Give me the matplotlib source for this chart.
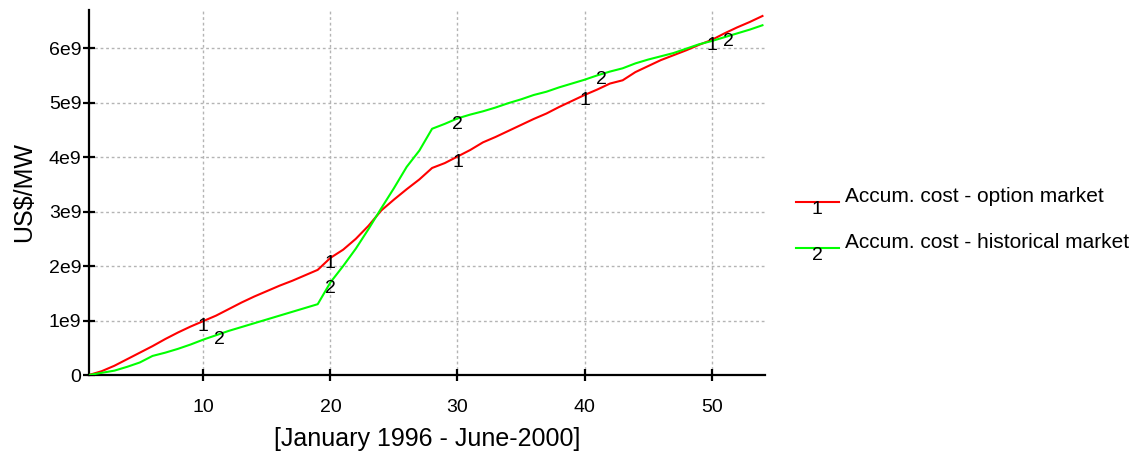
import numpy as np
import matplotlib
matplotlib.use('Agg')
import matplotlib.pyplot as plt
from matplotlib.lines import Line2D

# Monthly accumulated cost, Jan 1996 (month 1) to June 2000 (month 54)
months = list(range(1, 55))
option_cost = [0.00, 0.07, 0.17, 0.29, 0.41, 0.53, 0.66, 0.78, 0.89, 0.99,
               1.09, 1.21, 1.33, 1.44, 1.54, 1.64, 1.73, 1.83, 1.93, 2.15,
               2.30, 2.50, 2.74, 3.02, 3.22, 3.41, 3.59, 3.80, 3.89, 4.01,
               4.13, 4.27, 4.37, 4.48, 4.59, 4.70, 4.80, 4.92, 5.03, 5.14,
               5.24, 5.35, 5.41, 5.56, 5.67, 5.78, 5.87, 5.96, 6.06, 6.15,
               6.27, 6.38, 6.48, 6.59]
historical_cost = [0.00, 0.04, 0.08, 0.15, 0.23, 0.35, 0.41, 0.48, 0.56, 0.65,
                   0.73, 0.81, 0.88, 0.95, 1.02, 1.09, 1.16, 1.23, 1.30, 1.70,
                   2.00, 2.32, 2.68, 3.06, 3.43, 3.82, 4.12, 4.52, 4.61, 4.71,
                   4.78, 4.84, 4.91, 4.99, 5.06, 5.14, 5.20, 5.28, 5.35, 5.42,
                   5.50, 5.57, 5.63, 5.72, 5.79, 5.85, 5.91, 5.99, 6.07, 6.13,
                   6.20, 6.27, 6.34, 6.42]
option_marks = [10, 20, 30, 40, 50]
historical_marks = [11.3, 20, 30, 41.3, 51.3]
series_names = ['Accum. cost - option market', 'Accum. cost - historical market']

plt.rcParams['font.family'] = ['Liberation Sans', 'DejaVu Sans']

W, H = 1138, 455
fig = plt.figure(figsize=(W / 100, H / 100), dpi=100)
ax = fig.add_axes([89 / W, 80 / H, (765 - 89) / W, (375 - 10) / H])

x = np.array(months, dtype=float)
y1 = np.array(option_cost) * 1e9
y2 = np.array(historical_cost) * 1e9

ax.plot(x, y1, color='#ff0000', lw=1.5, zorder=3)
ax.plot(x, y2, color='#00ff00', lw=1.5, zorder=3)

# curve identifiers
for xm in option_marks:
    ax.annotate('1', (xm, np.interp(xm, x, y1)), xytext=(0, 2),
                textcoords='offset points', ha='center', va='top',
                fontsize=14, zorder=4)
for xm in historical_marks:
    ax.annotate('2', (xm, np.interp(xm, x, y2)), xytext=(0, 2),
                textcoords='offset points', ha='center', va='top',
                fontsize=14, zorder=4)

ax.set_xlim(1, 54.2)
ax.set_ylim(0, 6.7e9)
ax.set_xticks([10, 20, 30, 40, 50])
ax.set_yticks([0, 1e9, 2e9, 3e9, 4e9, 5e9, 6e9])
ax.set_yticklabels(['0', '1e9', '2e9', '3e9', '4e9', '5e9', '6e9'])

ax.grid(True, color='#b4b4b4', linestyle=(0, (2, 2)), linewidth=1)
for s in ['top', 'right']:
    ax.spines[s].set_visible(False)
for s in ['left', 'bottom']:
    ax.spines[s].set_linewidth(1.6)
ax.tick_params(axis='both', direction='inout', length=9, width=1.6,
               labelsize=14)
ax.tick_params(axis='y', pad=1)
ax.tick_params(axis='x', pad=13)

ax.set_xlabel('[January 1996 - June-2000]', fontsize=18, labelpad=8)
ax.set_ylabel('US$/MW', fontsize=18, labelpad=9)

# legend drawn by hand to the right of the plot
colors = ['#ff0000', '#00ff00']
for i, (name, c) in enumerate(zip(series_names, colors)):
    ly = 1 - (202 + 46 * i) / H
    fig.add_artist(Line2D([796 / W, 839 / W], [ly, ly], color=c, lw=1.5,
                          transform=fig.transFigure))
    fig.text(817 / W, ly + 1 / H, str(i + 1), ha='center', va='top',
             fontsize=14)
    fig.text(845 / W, ly + 5 / H, name, ha='left', va='center', fontsize=15)

fig.savefig('out.png', dpi=100)
